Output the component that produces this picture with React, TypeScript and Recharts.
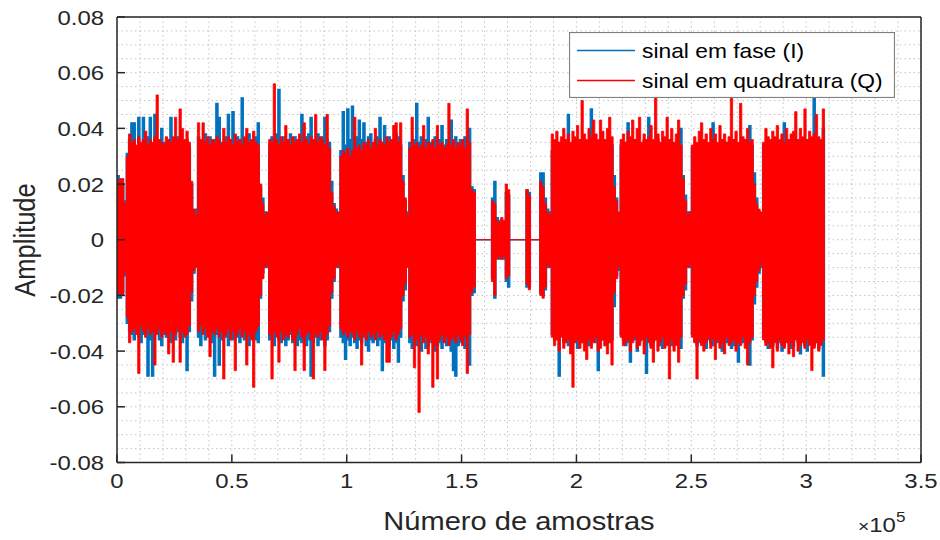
import React from "react";
import { Area, CartesianGrid, ComposedChart, Legend, XAxis, YAxis } from "recharts";

// The I/Q capture is stored decimated: one column per 1000 samples,
// holding the column's max and min in thousandths of amplitude.
const COLUMN = 1000;

const Q_MAX = [
    21, 22, 22, 13,
    30, 38, 35, 36, 34, 37, 35, 36, 39, 34, 36, 35, 37, 52, 36, 35, 34, 37, 36, 35, 37, 44, 36, 47, 40, 36, 39, 35,
    21, 11, 9,
    42, 36, 42, 35, 37, 34, 36, 35, 37, 36, 34, 40, 35, 37, 36, 34, 38, 35, 36, 34, 37, 40, 35, 36, 39, 35, 34,
    20, 13, 9, 10,
    36, 35, 56, 36, 34, 37, 35, 41, 36, 34, 37, 35, 36, 38, 35, 42, 36, 34, 37, 36, 45, 35, 37, 36, 34, 45, 33,
    17, 12, 10, 10,
    30, 32, 31, 33, 30, 32, 44, 33, 34, 32, 35, 34, 36, 33, 35, 40, 34, 36, 35, 34, 37, 35, 36, 41, 42, 35, 42,
    21, 15, 9,
    33, 44, 34, 35, 33, 34, 41, 33, 35, 34, 36, 33, 41, 34, 35, 33, 34, 49, 34, 36, 33, 35, 34, 36, 33, 47, 35,
    18, 17,
    0, 0, 0, 0, 0, 0, 0,
    14, 13, 7, 6, 8, 7, 20, 18,
    0, 0, 0, 0, 0, 0, 0,
    18, 16,
    0, 0, 0, 0,
    21, 19, 13, 10, 9,
    38, 36, 39, 35, 37, 40, 36, 38, 35, 39, 37, 41, 36, 50, 38, 36, 40, 37, 43, 38, 36, 43, 39, 36, 40, 44, 37,
    19, 14, 10,
    36, 38, 35, 39, 37, 43, 36, 40, 44, 35, 38, 36, 37, 41, 36, 51, 38, 35, 39, 37, 44, 36, 40, 35, 38, 43, 34,
    22, 14, 9, 10,
    34, 37, 35, 39, 42, 36, 38, 35, 40, 36, 38, 35, 41, 36, 38, 35, 37, 51, 36, 39, 35, 49, 37, 36, 40, 35, 36,
    20, 13, 11, 10,
    35, 40, 37, 36, 39, 37, 41, 36, 38, 35, 40, 36, 38, 39, 46, 36, 40, 37, 47, 36, 39, 37, 38, 45, 37, 36, 47,
    0,
];

const Q_MIN = [
    -19, -20, -20, -12,
    -28, -37, -33, -32, -34, -48, -31, -33, -35, -32, -34, -33, -45, -34, -32, -35, -33, -34, -41, -33, -44, -34, -32, -44, -33, -35, -34, -31,
    -19, -11, -10,
    -33, -31, -34, -32, -35, -42, -33, -34, -32, -35, -33, -50, -34, -32, -36, -33, -47, -34, -32, -35, -33, -45, -34, -36, -53, -33, -31,
    -20, -14, -10, -9,
    -34, -50, -33, -35, -44, -33, -36, -34, -35, -33, -36, -47, -34, -32, -35, -47, -34, -33, -36, -50, -34, -35, -33, -36, -47, -34, -31,
    -19, -14, -10, -9,
    -32, -34, -33, -35, -33, -34, -36, -33, -35, -45, -34, -36, -33, -35, -34, -36, -33, -35, -34, -36, -44, -44, -35, -33, -36, -34, -32,
    -20, -16, -10,
    -35, -34, -46, -36, -62, -34, -37, -35, -41, -36, -53, -38, -50, -36, -34, -37, -35, -38, -36, -35, -37, -34, -36, -38, -35, -48, -34,
    -19, -17,
    0, 0, 0, 0, 0, 0, 0,
    -15, -20, -7, -6, -7, -6, -14, -13,
    0, 0, 0, 0, 0, 0, 0,
    -16, -18,
    0, 0, 0, 0,
    -20, -21, -17, -9, -10,
    -35, -38, -36, -40, -35, -39, -37, -36, -41, -53, -37, -36, -39, -37, -40, -43, -36, -39, -37, -35, -40, -39, -36, -38, -41, -37, -45,
    -19, -14, -10,
    -35, -38, -37, -36, -40, -37, -35, -39, -38, -36, -41, -35, -37, -39, -44, -36, -40, -37, -35, -39, -38, -50, -36, -40, -38, -44, -35,
    -20, -16, -10, -9,
    -35, -37, -50, -36, -38, -40, -37, -35, -39, -36, -43, -36, -39, -37, -41, -35, -38, -37, -36, -40, -37, -38, -35, -39, -45, -37, -35,
    -20, -15, -11, -9,
    -36, -38, -37, -39, -46, -37, -40, -36, -38, -39, -37, -41, -37, -42, -36, -40, -38, -37, -39, -36, -38, -47, -39, -37, -40, -38, -36,
    0,
];

const I_MAX = [
    23, 19, 20, 14,
    31, 36, 42, 42, 33, 44, 34, 44, 35, 37, 44, 34, 45, 36, 33, 40, 35, 34, 36, 44, 34, 36, 37, 35, 34, 35, 36, 33,
    20, 10, 11,
    37, 34, 35, 38, 34, 37, 35, 36, 49, 44, 35, 34, 37, 45, 36, 46, 35, 37, 34, 51, 36, 35, 38, 34, 36, 37, 42,
    19, 15, 10, 9,
    34, 37, 35, 38, 54, 35, 37, 34, 36, 38, 35, 37, 34, 36, 45, 35, 37, 38, 44, 35, 36, 38, 34, 37, 44, 36, 35,
    21, 13, 11, 9,
    32, 46, 34, 47, 36, 48, 35, 37, 43, 36, 42, 35, 37, 38, 34, 36, 37, 44, 35, 41, 36, 37, 35, 36, 38, 37, 34,
    23, 14, 10,
    35, 34, 36, 49, 35, 37, 34, 36, 44, 35, 34, 37, 35, 36, 41, 34, 36, 35, 43, 35, 37, 34, 36, 35, 37, 34, 40,
    19, 18,
    0, 0, 0, 0, 0, 0, 0,
    15, 21, 8, 7, 6, 6, 17, 16,
    0, 0, 0, 0, 0, 0, 0,
    18, 17,
    0, 0, 0, 0,
    24, 24, 15, 11, 10,
    32, 34, 33, 35, 33, 36, 34, 45, 33, 32, 35, 33, 36, 34, 32, 35, 33, 47, 34, 35, 33, 32, 36, 34, 33, 35, 34,
    23, 15, 9,
    34, 32, 35, 42, 33, 34, 36, 32, 35, 34, 36, 33, 44, 35, 33, 34, 36, 33, 35, 34, 33, 36, 35, 33, 34, 32, 40,
    23, 16, 10, 10,
    33, 31, 34, 32, 33, 35, 32, 34, 33, 42, 32, 34, 33, 36, 32, 35, 33, 32, 36, 33, 34, 35, 32, 36, 33, 41, 34,
    24, 15, 10, 9,
    34, 33, 35, 32, 36, 34, 32, 35, 33, 42, 34, 36, 33, 35, 34, 36, 32, 35, 34, 36, 33, 35, 51, 34, 36, 35, 40,
    0,
];

const I_MIN = [
    -21, -21, -19, -13,
    -30, -33, -34, -36, -33, -35, -37, -34, -33, -49, -36, -49, -34, -33, -36, -38, -34, -35, -33, -37, -34, -36, -33, -35, -37, -34, -47, -33,
    -22, -12, -9,
    -35, -38, -33, -36, -34, -35, -37, -49, -34, -45, -36, -33, -35, -38, -34, -36, -33, -35, -37, -34, -36, -34, -38, -33, -35, -36, -37,
    -21, -12, -9, -10,
    -36, -35, -38, -34, -36, -37, -35, -38, -36, -34, -37, -35, -38, -36, -37, -35, -38, -36, -49, -37, -35, -38, -36, -35, -38, -36, -33,
    -21, -15, -9, -10,
    -35, -37, -43, -36, -38, -35, -37, -39, -36, -37, -35, -38, -40, -36, -37, -35, -38, -36, -47, -37, -35, -38, -36, -39, -37, -44, -35,
    -22, -18, -9,
    -37, -39, -36, -38, -37, -40, -36, -39, -38, -37, -36, -40, -38, -37, -39, -36, -38, -37, -40, -47, -49, -38, -37, -36, -39, -38, -45,
    -20, -19,
    0, 0, 0, 0, 0, 0, 0,
    -14, -21, -6, -7, -6, -7, -15, -17,
    0, 0, 0, 0, 0, 0, 0,
    -17, -17,
    0, 0, 0, 0,
    -19, -20, -18, -10, -9,
    -34, -36, -35, -49, -34, -37, -35, -38, -35, -37, -36, -39, -34, -37, -36, -35, -38, -34, -36, -37, -47, -35, -36, -38, -34, -37, -36,
    -24, -13, -11,
    -34, -36, -38, -37, -44, -35, -36, -40, -37, -36, -35, -48, -36, -38, -37, -36, -34, -38, -39, -35, -37, -36, -38, -37, -36, -35, -39,
    -21, -18, -9, -10,
    -34, -36, -38, -37, -35, -37, -39, -36, -37, -38, -36, -37, -35, -40, -36, -37, -35, -39, -38, -35, -44, -36, -37, -35, -38, -45, -36,
    -23, -17, -12, -10,
    -35, -37, -39, -36, -38, -36, -39, -37, -40, -38, -36, -37, -39, -38, -35, -37, -41, -36, -38, -40, -37, -36, -38, -37, -39, -36, -49,
    0,
];

const SERIES_NAMES = ["sinal em fase (I)", "sinal em quadratura (Q)"];
const SERIES_COLORS = ["#0072BD", "#FF0000"];

const X_TICKS = [0, 50000, 100000, 150000, 200000, 250000, 300000, 350000];
const X_TICK_LABELS = ["0", "0.5", "1", "1.5", "2", "2.5", "3", "3.5"];
const Y_TICKS = [-0.08, -0.06, -0.04, -0.02, 0, 0.02, 0.04, 0.06, 0.08];
const Y_TICK_LABELS = ["-0.08", "-0.06", "-0.04", "-0.02", "0", "0.02", "0.04", "0.06", "0.08"];

// minor grid: 0.1e5 samples across, 0.005 up the amplitude axis
const GRID_X = Array.from({ length: 36 }, (_, i) => i * 10000);
const GRID_Y = Array.from({ length: 33 }, (_, i) => -0.08 + i * 0.005);

const data = Q_MAX.map((_, k) => ({
    n: k * COLUMN,
    i: [I_MIN[k] / 1000, I_MAX[k] / 1000],
    q: [Q_MIN[k] / 1000, Q_MAX[k] / 1000],
}));

const FONT = '"Liberation Sans", Arial, Helvetica, sans-serif';
const INK = "#262626";
const STRETCH = 1.14;
const AXIS_LINE = { stroke: INK, strokeWidth: 1.5 };
const TICK_LINE = { stroke: INK, strokeWidth: 1.5 };

const XTick = ({ x, y, payload }: any) => (
    <g transform={`translate(${x} ${y + 25.5}) scale(${STRETCH} 1)`}>
        <text x={0} y={0} textAnchor="middle" fontFamily={FONT} fontSize={21} fill={INK}>
            {X_TICK_LABELS[X_TICKS.indexOf(payload.value)]}
        </text>
    </g>
);

const YTick = ({ x, y, payload }: any) => {
    const idx = Y_TICKS.findIndex((t) => Math.abs(t - payload.value) < 1e-9);
    return (
        <g transform={`translate(${x} ${y + 7.5}) scale(${STRETCH} 1)`}>
            <text x={0} y={0} textAnchor="end" fontFamily={FONT} fontSize={21} fill={INK}>
                {Y_TICK_LABELS[idx]}
            </text>
        </g>
    );
};

const LegendBox = ({ payload }: any) => (
    <svg width={326} height={66} style={{ display: "block" }}>
        <rect x={0.5} y={0.5} width={325} height={65} fill="#ffffff" stroke="#808080" strokeWidth={1.2} />
        {(payload ?? []).map((entry: any, idx: number) => (
            <g key={entry.value}>
                <line x1={8} x2={66} y1={18.5 + idx * 30} y2={18.5 + idx * 30} stroke={entry.color} strokeWidth={1.3} />
                <g transform={`translate(73 ${25.6 + idx * 30}) scale(${STRETCH} 1)`}>
                    <text x={0} y={0} fontFamily={FONT} fontSize={20} fill="#000000">
                        {entry.value}
                    </text>
                </g>
            </g>
        ))}
    </svg>
);

export default function App() {
    return (
        <div style={{ position: "absolute", left: 0, top: 0, width: 940, height: 540, background: "#ffffff" }}>
            <ComposedChart
                width={940}
                height={540}
                data={data}
                margin={{ top: 16, right: 18, bottom: 37.5, left: 0 }}
            >
                <CartesianGrid
                    stroke="#c4c4c4"
                    strokeDasharray="1.5 3"
                    verticalValues={GRID_X}
                    horizontalValues={GRID_Y}
                />
                <XAxis
                    dataKey="n"
                    type="number"
                    domain={[0, 350000]}
                    ticks={X_TICKS}
                    interval={0}
                    allowDataOverflow
                    height={40}
                    tickSize={-8}
                    tickMargin={8}
                    axisLine={AXIS_LINE}
                    tickLine={TICK_LINE}
                    tick={XTick}
                />
                <XAxis
                    xAxisId="top"
                    orientation="top"
                    type="number"
                    domain={[0, 350000]}
                    ticks={X_TICKS}
                    interval={0}
                    allowDataOverflow
                    height={1}
                    tickSize={-8}
                    axisLine={AXIS_LINE}
                    tickLine={TICK_LINE}
                    tick={false}
                />
                <YAxis
                    type="number"
                    domain={[-0.08, 0.08]}
                    ticks={Y_TICKS}
                    interval={0}
                    allowDataOverflow
                    width={117}
                    tickSize={-8}
                    tickMargin={21}
                    axisLine={AXIS_LINE}
                    tickLine={TICK_LINE}
                    tick={YTick}
                />
                <YAxis
                    yAxisId="right"
                    orientation="right"
                    type="number"
                    domain={[-0.08, 0.08]}
                    ticks={Y_TICKS}
                    interval={0}
                    allowDataOverflow
                    width={1}
                    tickSize={-8}
                    axisLine={AXIS_LINE}
                    tickLine={TICK_LINE}
                    tick={false}
                />
                <Area
                    name={SERIES_NAMES[0]}
                    dataKey="i"
                    type="stepAfter"
                    stroke={SERIES_COLORS[0]}
                    strokeWidth={1.2}
                    fill={SERIES_COLORS[0]}
                    fillOpacity={1}
                    dot={false}
                    activeDot={false}
                    isAnimationActive={false}
                />
                <Area
                    name={SERIES_NAMES[1]}
                    dataKey="q"
                    type="stepAfter"
                    stroke={SERIES_COLORS[1]}
                    strokeWidth={0.8}
                    fill={SERIES_COLORS[1]}
                    fillOpacity={1}
                    dot={false}
                    activeDot={false}
                    isAnimationActive={false}
                />
                <Legend
                    content={LegendBox}
                    layout="horizontal"
                    verticalAlign="middle"
                    align="center"
                    wrapperStyle={{ left: 569, top: 32, width: 326, height: 66 }}
                />
                <g transform={`translate(519 530) scale(${STRETCH} 1)`}>
                    <text x={0} y={0} textAnchor="middle" fontFamily={FONT} fontSize={25.5} fill={INK}>
                        Número de amostras
                    </text>
                </g>
                <g transform={`translate(35 240) scale(${STRETCH} 1) rotate(-90)`}>
                    <text x={0} y={0} textAnchor="middle" fontFamily={FONT} fontSize={25.5} fill={INK}>
                        Amplitude
                    </text>
                </g>
                <g transform={`translate(858 531.5) scale(${STRETCH} 1)`}>
                    <text x={0} y={0} fontFamily={FONT} fontSize={21} fill={INK}>
                        <tspan fontSize={17}>×</tspan>
                        10
                        <tspan dy={-10} fontSize={15}>
                            5
                        </tspan>
                    </text>
                </g>
            </ComposedChart>
        </div>
    );
}
